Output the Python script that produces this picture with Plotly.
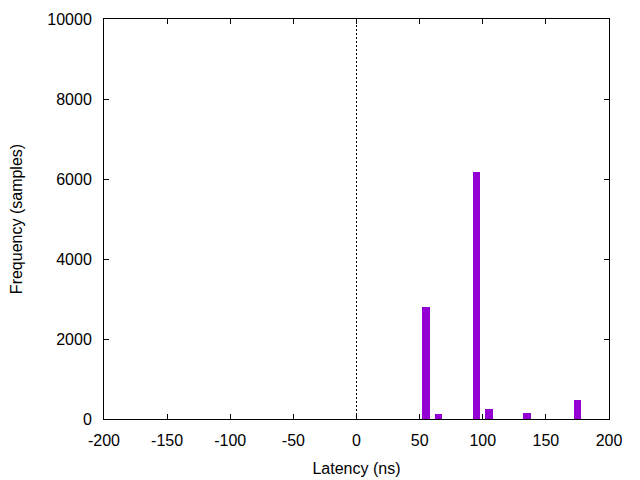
import plotly.graph_objects as go

latency_ns = [55, 65, 95, 105, 135, 175]
frequency = [2800, 120, 6175, 250, 150, 475]
bar_width = 6
x_ticks = [-200, -150, -100, -50, 0, 50, 100, 150, 200]
y_ticks = [0, 2000, 4000, 6000, 8000, 10000]
zero_line_x = [0, 0]
zero_line_y = [0, 10000]

fig = go.Figure()
fig.add_trace(go.Scatter(x=zero_line_x, y=zero_line_y, mode="lines",
                         line=dict(color="black", width=1, dash="2px,2px"),
                         showlegend=False, hoverinfo="skip"))
fig.add_trace(go.Bar(x=latency_ns, y=frequency, width=bar_width,
                     marker=dict(color="#9400D3", line=dict(width=0)),
                     showlegend=False))

font = dict(family="Liberation Sans, Arial, sans-serif", size=16, color="black")
fig.update_layout(
    width=640, height=480,
    margin=dict(l=96, r=39, t=11, b=69),
    paper_bgcolor="white", plot_bgcolor="white",
    font=font, showlegend=False, bargap=0,
    xaxis=dict(range=[-200, 200], tickvals=x_ticks, ticktext=[str(v) for v in x_ticks],
               ticks="inside", ticklen=5, tickcolor="black", tickwidth=1,
               showline=True, linecolor="black", linewidth=1, mirror="ticks",
               showgrid=False, zeroline=False, ticklabelstandoff=7, automargin=False,
               tickfont=font,
               title=dict(text="Latency (ns)", standoff=14, font=font)),
    yaxis=dict(range=[0, 10000], tickvals=y_ticks, ticktext=[str(v) for v in y_ticks],
               ticks="inside", ticklen=5, tickcolor="black", tickwidth=1,
               showline=True, linecolor="black", linewidth=1, mirror="ticks",
               showgrid=False, zeroline=False, ticklabelstandoff=8, automargin=False,
               tickfont=font,
               title=dict(text="Frequency (samples)", standoff=21, font=font)),
)

fig.write_html("out.html")
